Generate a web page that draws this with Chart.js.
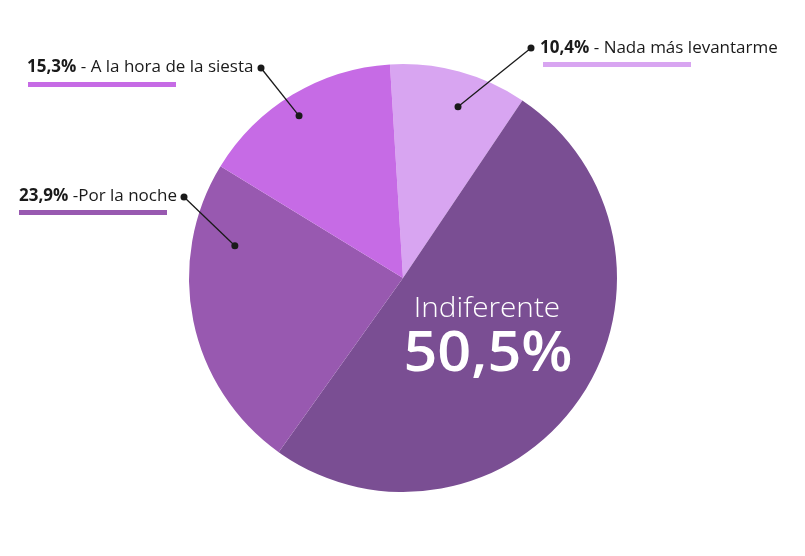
<!DOCTYPE html>
<html>
<head>
<meta charset="utf-8">
<script src="https://cdn.jsdelivr.net/npm/chart.js@4"></script>
<style>
    html, body { margin: 0; padding: 0; background: #ffffff; }
    #wrap { width: 805px; height: 556px; }
</style>
</head>
<body>
<div id="wrap"><canvas id="myChart" width="805" height="556"></canvas></div>
<script>
    // datos del gráfico
    const categories = ['Nada más levantarme', 'Indiferente', 'Por la noche', 'A la hora de la siesta'];
    const values = [10.4, 50.5, 23.9, 15.3];
    const valueLabels = ['10,4%', '50,5%', '23,9%', '15,3%'];
    const sliceColors = ['#d8a5f1', '#7a4e93', '#9859b0', '#c66be5'];

    // etiquetas externas: texto, posición, punto interior (fracción de ángulo / radio)
    const calloutText = [' - Nada más levantarme', null, ' -Por la noche', ' - A la hora de la siesta'];
    const callouts = [
        { index: 0, textX: 540, textY: 48, dotX: 531, dotY: 48, barX: 543, barY: 62, t: 0.57, r: 0.84 },
        { index: 2, textX: 19, textY: 196, dotX: 184, dotY: 197, barX: 19, barY: 210, t: 0.76, r: 0.80 },
        { index: 3, textX: 27, textY: 67, dotX: 261, dotY: 68, barX: 28, barY: 82, t: 0.47, r: 0.90 }
    ];

    const FONT = "'Open Sans', 'Noto Sans', sans-serif";

    function drawWide(ctx, text, cx, baseY, sx) {
        ctx.save();
        ctx.translate(cx, baseY);
        ctx.scale(sx, 1);
        ctx.fillText(text, 0, 0);
        ctx.restore();
    }

    const labelsPlugin = {
        id: 'labelsPlugin',
        afterDraw(chart) {
            const ctx = chart.ctx;
            const arcs = chart.getDatasetMeta(0).data;

            callouts.forEach(c => {
                const arc = arcs[c.index];
                const ang = arc.startAngle + (arc.endAngle - arc.startAngle) * c.t;
                const px = arc.x + Math.cos(ang) * arc.outerRadius * c.r;
                const py = arc.y + Math.sin(ang) * arc.outerRadius * c.r;

                ctx.save();
                ctx.strokeStyle = '#1a1a1a';
                ctx.lineWidth = 1.3;
                ctx.beginPath();
                ctx.moveTo(c.dotX, c.dotY);
                ctx.lineTo(px, py);
                ctx.stroke();

                ctx.fillStyle = '#1a1a1a';
                ctx.beginPath();
                ctx.arc(c.dotX, c.dotY, 3.5, 0, Math.PI * 2);
                ctx.fill();
                ctx.beginPath();
                ctx.arc(px, py, 3.5, 0, Math.PI * 2);
                ctx.fill();

                ctx.textBaseline = 'middle';
                ctx.textAlign = 'left';
                ctx.font = 'bold 17px ' + FONT;
                ctx.fillText(valueLabels[c.index], c.textX, c.textY);
                let w = ctx.measureText(valueLabels[c.index]).width;
                ctx.font = '17px ' + FONT;
                ctx.fillText(calloutText[c.index], c.textX + w, c.textY);

                ctx.fillStyle = sliceColors[c.index];
                ctx.fillRect(c.barX, c.barY, 148, 5);
                ctx.restore();
            });

            // texto central de la porción principal
            const big = arcs[1];
            ctx.save();
            ctx.fillStyle = '#ffffff';
            ctx.textAlign = 'center';
            ctx.textBaseline = 'alphabetic';
            ctx.font = '300 27px ' + FONT;
            drawWide(ctx, categories[1], big.x + 84, big.y + 39, 1.1);
            ctx.font = '600 56px ' + FONT;
            drawWide(ctx, valueLabels[1], big.x + 85, big.y + 93, 1.06);
            ctx.restore();
        }
    };

    const context = document.getElementById('myChart').getContext('2d');
    const myChart = new Chart(context, {
        type: 'pie',
        data: {
            labels: categories,
            datasets: [{
                data: values,
                backgroundColor: sliceColors,
                borderWidth: 0
            }]
        },
        options: {
            responsive: false,
            animation: false,
            rotation: -3.5,
            layout: { padding: { top: 64, bottom: 64, left: 1, right: 0 } },
            plugins: {
                legend: { display: false },
                tooltip: { enabled: false }
            }
        },
        plugins: [labelsPlugin]
    });
</script>
</body>
</html>
